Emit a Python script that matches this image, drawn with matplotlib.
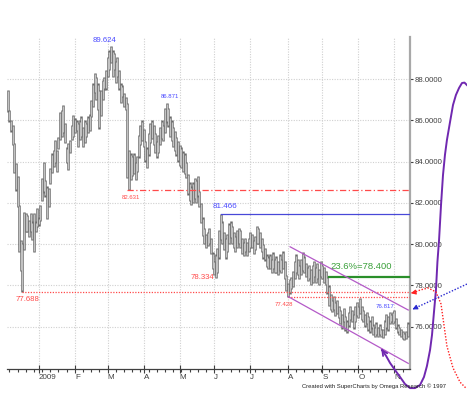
import matplotlib
matplotlib.use('Agg')
import matplotlib.pyplot as plt
import numpy as np
import pandas as pd

plt.rcParams['font.family'] = ['Liberation Sans', 'DejaVu Sans']

# ---------------- data (daily bars, US dollar index style) ----------------
dates = pd.bdate_range('2008-12-05', '2009-11-12')   # 245 trading days

highs = [
    87.48, 86.50, 86.02, 85.78, 84.90, 83.94, 83.30, 81.90, 80.20, 80.06,
    81.56, 81.50, 81.40, 81.17, 81.50, 81.10, 81.50, 81.10, 81.75, 81.30,
    81.90, 83.20, 84.00, 83.10, 82.80, 82.73, 83.70, 84.40, 84.57, 85.05,
    84.57, 85.20, 86.40, 86.50, 86.75, 85.90, 84.70, 84.90, 85.05, 85.80,
    86.26, 86.10,
    86.00, 85.90, 86.00, 86.20, 85.70, 86.00, 85.90, 86.20, 86.30, 87.00,
    87.80, 88.30, 88.10, 87.80, 87.50, 87.50, 87.96, 88.10, 88.45, 89.10,
    89.40, 89.624, 89.40, 89.30, 88.90, 89.10, 88.45, 87.80, 87.70, 87.33,
    87.15, 86.85, 84.57, 84.40, 84.30, 84.40, 84.00, 84.30,
    85.30, 85.80, 86.00, 85.60, 85.00, 84.70, 85.40, 85.90, 86.00, 85.80,
    85.40, 85.00, 85.30, 85.70, 86.00, 85.80, 86.60, 86.871, 86.60, 86.20,
    86.00, 85.70, 85.50, 85.20, 85.00, 84.80, 84.70, 84.50, 84.40, 84.00,
    83.40, 83.00, 82.80, 83.00, 83.20, 83.10, 83.30, 82.60, 82.00, 81.30,
    80.80, 80.50, 80.60, 80.80, 80.30, 79.60, 79.20, 79.50, 79.80, 80.70,
    81.466, 81.10, 80.60, 80.30, 80.50, 81.00, 81.10, 80.90, 80.60, 80.40,
    80.70, 80.80, 80.70, 80.30, 80.10, 80.30, 80.10, 80.30, 80.60, 80.50,
    80.20, 80.40, 80.90, 80.80, 80.60, 80.30, 80.00, 79.80, 79.50, 79.40,
    79.50, 79.30, 79.60, 79.30, 79.40, 79.20, 79.50, 79.30, 79.65, 79.20,
    78.50, 78.10, 78.30, 78.40, 78.70, 79.20, 79.50, 79.30, 79.00, 79.30,
    79.60, 79.40, 79.10, 78.90, 79.00, 78.80, 79.00, 79.20, 78.90, 79.10,
    78.80, 79.20, 79.00, 78.90, 78.70, 78.40, 78.00, 77.60, 77.30, 77.50,
    77.20, 77.30, 77.00, 76.80, 76.60, 76.90, 76.50, 76.30, 76.70, 77.00,
    76.80, 76.60, 77.00, 77.20, 77.00, 77.40, 77.00, 76.80, 76.60, 76.70,
    76.50, 76.30, 76.50, 76.10, 76.00, 76.20, 76.00, 76.10, 75.90, 75.90,
    76.30, 76.60, 76.50, 76.70, 76.60, 76.70, 76.817, 76.40, 76.10, 76.00,
    75.90, 75.80, 75.70, 75.80, 76.20,
]
lows = [
    86.43, 85.94, 85.46, 84.80, 83.45, 82.60, 81.80, 79.60, 78.70, 77.688,
    79.70, 80.60, 80.60, 80.35, 80.60, 80.20, 79.60, 80.60, 80.83, 80.90,
    81.10, 82.10, 82.50, 82.30, 81.20, 81.80, 82.90, 83.44, 83.74, 83.94,
    83.50, 84.60, 85.05, 85.20, 85.40, 84.90, 83.94, 83.60, 84.40, 85.05,
    85.20, 85.40,
    85.50, 84.70, 85.05, 85.20, 84.70, 84.90, 85.20, 85.40, 85.50, 86.17,
    86.66, 87.33, 87.00, 86.50, 85.60, 86.20, 87.00, 87.50, 87.50, 88.10,
    88.45, 88.80, 88.10, 88.45, 87.80, 88.10, 87.50, 86.85, 87.15, 86.66,
    86.50, 83.20, 82.631, 83.10, 83.30, 83.40, 83.10, 83.50,
    84.20, 84.80, 85.00, 84.70, 84.00, 83.70, 84.30, 84.90, 85.10, 84.80,
    84.40, 84.20, 84.40, 84.80, 85.10, 85.00, 85.40, 85.90, 85.70, 85.20,
    85.00, 84.70, 84.50, 84.30, 84.00, 83.80, 83.70, 83.50, 83.40, 83.20,
    82.40, 82.10, 81.90, 82.00, 82.20, 82.00, 82.30, 81.80, 81.00, 80.40,
    80.00, 79.80, 79.90, 80.00, 79.50, 78.80, 78.50, 78.334, 78.60, 79.30,
    80.20, 80.00, 79.70, 79.30, 79.60, 80.00, 80.30, 80.00, 79.80, 79.60,
    79.80, 80.00, 79.80, 79.50, 79.40, 79.60, 79.40, 79.60, 79.80, 79.80,
    79.50, 79.70, 80.00, 80.00, 79.80, 79.60, 79.30, 79.20, 78.90, 78.80,
    78.80, 78.60, 78.80, 78.60, 78.60, 78.50, 78.70, 78.60, 78.80, 78.30,
    77.70, 77.428, 77.60, 77.80, 77.90, 78.30, 78.60, 78.50, 78.30, 78.50,
    78.70, 78.60, 78.40, 78.20, 78.30, 78.00, 78.10, 78.40, 78.10, 78.30,
    78.00, 78.40, 78.30, 78.10, 78.00, 77.60, 77.00, 76.80, 76.70, 76.80,
    76.50, 76.60, 76.40, 76.10, 75.90, 76.20, 75.80, 75.70, 76.00, 76.30,
    76.20, 75.90, 76.20, 76.50, 76.40, 76.60, 76.30, 76.20, 76.00, 76.10,
    75.80, 75.70, 75.90, 75.60, 75.50, 75.60, 75.50, 75.60, 75.50, 75.45,
    75.60, 75.90, 75.80, 76.10, 76.20, 76.10, 76.20, 75.90, 75.70, 75.60,
    75.50, 75.40, 75.35, 75.40, 75.50,
]

levels = {'peak': 89.624, 'apr_high': 86.871, 'mar_low': 82.631,
          'jun_high': 81.466, 'jun_low': 78.334, 'dec_low': 77.688,
          'aug_low': 77.428, 'fib': 78.400, 'nov_high': 76.817}
ytick_vals = [76, 78, 80, 82, 84, 86, 88]

# ---------------- figure ----------------
W, H = 467, 395
fig = plt.figure(figsize=(W / 100, H / 100), dpi=100)
ax = fig.add_axes([6.5 / W, 26 / H, (410 - 6.5) / W, (369 - 37) / H])

n = len(dates)
x = np.arange(n)
hi = np.array(highs)
lo = np.array(lows)

ax.vlines(x, lo, hi, color='#6a6a6a', lw=1.8, zorder=3)
ax.vlines(x, lo + 0.06, hi - 0.06, color='#c2c2c2', lw=0.8, zorder=4)

ax.set_xlim(-0.72, 245.47)
ax.set_ylim(73.937, 90.053)

# month ticks
months = pd.Series(x, index=dates)
first_idx = months.groupby([dates.year, dates.month]).first()
mt, ml = [], []
for (yy, mm), k in first_idx.items():
    if yy == 2008:
        continue
    mt.append(k)
    ml.append('2009' if mm == 1 else pd.Timestamp(yy, mm, 1).strftime('%b')[0])
weeks = [k for k, d in enumerate(dates) if d.weekday() == 0]

ax.set_xticks(mt)
ax.set_xticklabels(ml, ha='left')
ax.set_xticks(weeks, minor=True)
ax.tick_params(axis='x', which='major', direction='inout', length=6, width=0.8,
               color='#404040', labelsize=5.8, labelcolor='#404040', pad=0.5)
ax.tick_params(axis='x', which='minor', direction='out', length=2.2, width=0.8,
               color='#404040')

ax.yaxis.tick_right()
ax.set_yticks(ytick_vals)
ax.set_yticklabels(['%.4f' % v for v in ytick_vals])
ax.tick_params(axis='y', which='major', direction='out', length=2.5, width=0.8,
               color='#404040', labelsize=5.6, labelcolor='#404040', pad=0.5)

for s in ['top', 'left']:
    ax.spines[s].set_visible(False)
ax.spines['right'].set_color('#a8a8a8')
ax.spines['right'].set_linewidth(1.6)
ax.spines['bottom'].set_color('#404040')
ax.spines['bottom'].set_linewidth(0.9)

# grid
for k in mt:
    ax.axvline(k, color='#d0d0d0', lw=0.8, ls=(0, (1, 1.3)), zorder=1)
for v in ytick_vals:
    ax.axhline(v, color='#d0d0d0', lw=0.8, ls=(0, (1, 1.3)), zorder=1)

red = '#ff4a4a'
blue = '#4a4aff'
green = '#2a8f2a'
purple = '#7028b0'
orchid = '#b45ac8'
xr = ax.get_xlim()[1]

# level lines
ax.plot([73, xr], [levels['mar_low']] * 2, color=red, lw=0.9,
        ls=(0, (5, 2, 1, 2)), zorder=5)
ax.plot([130, xr], [levels['jun_high']] * 2, color='#4848d8', lw=0.9, zorder=5)
ax.plot([9, xr], [levels['dec_low']] * 2, color=red, lw=0.9, ls=(0, (1, 1.2)), zorder=5)
ax.plot([171, xr], [levels['aug_low']] * 2, color=red, lw=0.9, ls=(0, (1, 1.2)), zorder=5)
ax.plot([196, xr], [levels['fib']] * 2, color=green, lw=1.6, zorder=5)

# channel
ax.plot([172.3, 244.4], [79.87, 76.80], color=orchid, lw=0.9, zorder=5)
ax.plot([171.2, 244.4], [77.45, 74.21], color=orchid, lw=0.9, zorder=5)

# labels
ax.text(59.4, 89.86, '89.624', color=blue, fontsize=5.6, ha='center', va='center')
ax.text(98.7, 87.165, '86.871', color=blue, fontsize=4.3, ha='center', va='center')
ax.text(75.2, 82.24, '82.631', color=red, fontsize=4.3, ha='center', va='center')
ax.text(132.6, 81.83, '81.466', color=blue, fontsize=5.8, ha='center', va='center')
ax.text(118.9, 78.38, '78.334', color=red, fontsize=5.6, ha='center', va='center')
ax.text(12.1, 77.31, '77.688', color=red, fontsize=5.6, ha='center', va='center')
ax.text(168.6, 77.07, '77.428', color=red, fontsize=4.3, ha='center', va='center')
ax.text(215.6, 78.89, '23.6%=78.400', color='#3aa03a', fontsize=6.8, ha='center', va='center')
ax.text(230.5, 76.97, '76.817', color=blue, fontsize=4.4, ha='center', va='center')

# free-hand annotations (drawn in data units, outside the plot frame)
pk = [228.4, 230.9, 233.3, 236.3, 239.4, 242.4, 245.5, 248.5, 251.6, 254.0, 255.8,
      257.7, 258.9, 260.1, 261.3, 262.2, 263.2, 264.4, 265.6, 266.8, 268.0, 269.9,
      271.7, 273.5, 275.4, 277.2, 278.7, 280.2]
pv = [74.86, 74.57, 74.23, 73.89, 73.55, 73.21, 73.01, 73.01, 73.16, 73.55, 74.08,
      74.86, 75.59, 76.70, 77.77, 79.13, 80.20, 81.90, 83.35, 84.33, 85.05, 85.93,
      86.75, 87.24, 87.58, 87.82, 87.84, 87.72]
ax.plot(pk, pv, color=purple, lw=1.4, clip_on=False, zorder=6)
ax.annotate('', xy=(227.0, 75.03), xytext=(229.6, 74.72),
            arrowprops=dict(arrowstyle='->', color=purple, lw=1.3, mutation_scale=9),
            annotation_clip=False, zorder=6)

rk = [247.3, 251.6, 256.5, 261.3, 264.4, 266.2, 268.0, 271.7, 276.0, 279.6]
rv = [77.63, 77.77, 77.87, 77.68, 77.09, 76.07, 75.05, 73.99, 73.30, 73.01]
ax.plot(rk, rv, color='#ff2020', lw=1.0, ls=(0, (1, 1.2)), clip_on=False, zorder=6)
ax.annotate('', xy=(246.0, 77.62), xytext=(248.5, 77.66),
            arrowprops=dict(arrowstyle='-|>', color='#ff2020', lw=0.8, mutation_scale=7),
            annotation_clip=False, zorder=6)

ax.plot([280.2, 248.2], [78.06, 76.88], color='#2828d0', lw=1.0, ls=(0, (1, 1.2)),
        clip_on=False, zorder=6)
ax.annotate('', xy=(247.0, 76.83), xytext=(249.5, 76.93),
            arrowprops=dict(arrowstyle='-|>', color='#2828d0', lw=0.8, mutation_scale=7),
            annotation_clip=False, zorder=6)

fig.text(301.7 / W, 1 - 386 / H, 'Created with SuperCharts by Omega Research \u00a9 1997',
         fontsize=4.2, color='#202020', ha='left', va='center')

fig.savefig('out.png', dpi=100)
